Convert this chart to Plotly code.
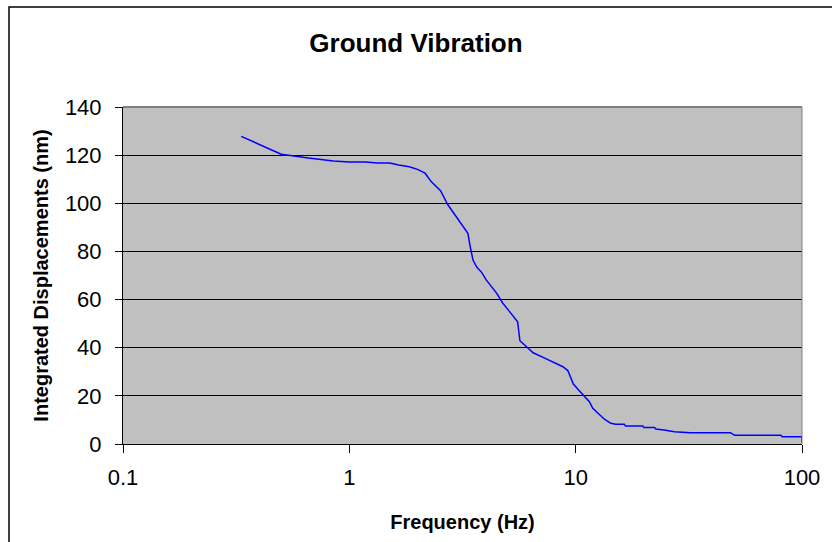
import plotly.graph_objects as go

# Integrated ground displacement vs. frequency
frequency_hz = [0.333, 0.50, 0.66, 0.85, 1.0, 1.175, 1.336, 1.51, 1.65, 1.84, 2.0, 2.16,
                2.30, 2.53, 2.72, 3.04, 3.34, 3.42, 3.52, 3.66, 3.85, 4.01, 4.48, 4.75,
                4.96, 5.48, 5.54, 5.67, 6.06, 6.49, 7.18, 8.21, 8.78, 9.23, 9.55, 9.77,
                10.3, 10.8, 11.5, 11.9, 12.5, 13.4, 14.3, 15.0, 16.4, 16.6, 19.8, 20.0,
                22.3, 22.6, 24.6, 27.3, 32.0, 48.3, 50.4, 80.7, 81.7, 99.8, 100.0]
displacement_nm = [127.8, 120.4, 118.8, 117.6, 117.2, 117.2, 116.7, 116.7, 115.9, 115.2, 114.1, 112.5,
                   109.0, 105.2, 99.5, 93.1, 87.5, 82.0, 76.4, 73.4, 71.2, 68.4, 62.6, 58.7,
                   56.5, 51.5, 50.8, 42.9, 40.4, 37.9, 36.0, 33.2, 32.1, 30.5, 27.3, 24.9,
                   22.4, 20.2, 17.6, 14.8, 12.8, 10.3, 8.6, 8.2, 8.2, 7.5, 7.5, 6.9,
                   6.9, 6.2, 5.8, 5.1, 4.7, 4.7, 3.6, 3.6, 3.0, 3.0, 0.5]

x_ticks = [0.1, 1, 10, 100]
x_tick_labels = ["0.1", "1", "10", "100"]
y_ticks = [0, 20, 40, 60, 80, 100, 120, 140]

W, H = 832, 542
L, R, T, B = 123, 808, 107, 444  # plot-area edges in pixels

FONT = "Arial, 'Liberation Sans', sans-serif"

fig = go.Figure()
fig.add_trace(go.Scatter(
    x=frequency_hz, y=displacement_nm, mode="lines",
    line=dict(color="#0000FF", width=1.5),
    hoverinfo="skip", showlegend=False, cliponaxis=False,
))

def px_x(p):
    return (p - L) / (R - L)

def px_y(p):
    return (B - p) / (B - T)

fig.update_layout(
    width=W, height=H,
    margin=dict(l=L, r=W - R, t=T, b=H - B, pad=0),
    paper_bgcolor="white",
    plot_bgcolor="#C0C0C0",
    font=dict(family=FONT, color="black", size=22),
    title=dict(text="<b>Ground Vibration</b>", x=0.5, xanchor="center",
               y=1 - 43 / H, yanchor="middle",
               font=dict(family=FONT, size=26, color="black")),
    xaxis=dict(
        type="log", range=[-1, 2],
        tickvals=x_ticks, ticktext=x_tick_labels,
        showgrid=False, zeroline=False,
        showline=True, linecolor="black", linewidth=1,
        ticks="outside", ticklen=8, tickcolor="black", tickwidth=1,
        tickfont=dict(size=22), ticklabelstandoff=6,
        title=dict(text="<b>Frequency (Hz)</b>", font=dict(size=20), standoff=25),
    ),
    yaxis=dict(
        range=[0, 140], tickvals=y_ticks,
        showgrid=True, gridcolor="black", gridwidth=1,
        zeroline=False,
        showline=True, linecolor="black", linewidth=1,
        ticks="outside", ticklen=7, tickcolor="black", tickwidth=1,
        tickfont=dict(size=22), ticklabelstandoff=9,
        title=dict(text="<b>Integrated Displacements (nm)</b>", font=dict(size=20), standoff=10),
    ),
    shapes=[
        # plot-area border (top and right edges)
        dict(type="line", xref="paper", yref="paper", x0=0, x1=1, y0=1, y1=1,
             line=dict(color="#808080", width=2), layer="above"),
        dict(type="line", xref="paper", yref="paper", x0=1, x1=1, y0=0, y1=1,
             line=dict(color="#808080", width=1), layer="above"),
        # outer chart frame
        dict(type="rect", xref="paper", yref="paper",
             x0=px_x(8), x1=px_x(W + 20), y0=px_y(H + 20), y1=px_y(7),
             line=dict(color="black", width=1.5), fillcolor="rgba(0,0,0,0)", layer="below"),
    ],
)

fig.write_html("out.html")
